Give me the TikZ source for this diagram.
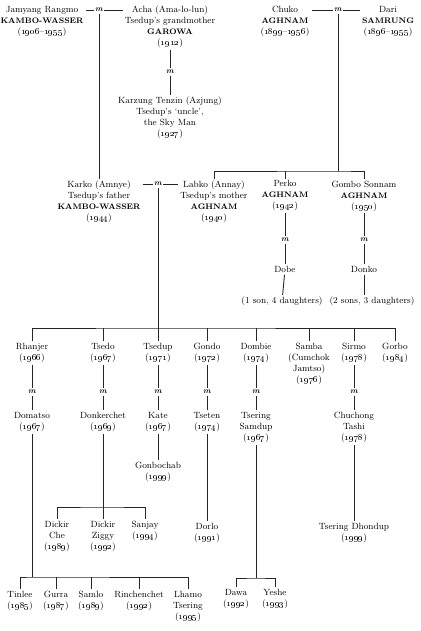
\documentclass[tikz,border=0pt]{standalone}
\newcommand{\yr}[1]{\oldstylenums{#1}}
\newcommand{\clan}[1]{{\fontsize{8}{11}\selectfont\bfseries #1}}

\begin{document}
\begin{tikzpicture}[
      x=1pt, y=-1pt,
      person/.style={anchor=north, align=center, inner sep=2pt, font=\fontsize{9}{11}\selectfont},
      wed/.style={inner sep=1.5pt, font=\fontsize{8}{8}\selectfont\bfseries\itshape},
      line/.style={draw=black!85, line width=0.9pt}
  ]
      \useasboundingbox (0,0) rectangle (420,631);

      % Top: grandparents
      \node [person] (jamyang) at (42,4) {Jamyang Rangmo\\\clan{KAMBO-WASSER}\\(\yr{1906}--\yr{1955})};
      \node [wed] (mA) at (99,10) {m};
      \node [person] (acha) at (170,4) {Acha (Ama-lo-lun)\\Tsedup's grandmother\\\clan{GAROWA}\\(\yr{1912})};
      \node [wed] (mB) at (170,72) {m};
      \node [person] (karzung) at (170,95) {Karzung Tenzin (Azjung)\\Tsedup's `uncle',\\the Sky Man\\(\yr{1927})};

      \node [person] (chuko) at (285,4) {Chuko\\\clan{AGHNAM}\\(\yr{1899}--\yr{1956})};
      \node [wed] (mC) at (338,10) {m};
      \node [person] (dari) at (388,4) {Dari\\\clan{SAMRUNG}\\(\yr{1896}--\yr{1955})};

      % Parents and Aghnam siblings
      \node [person] (karko) at (99,178.5) {Karko (Amnye)\\Tsedup's father\\\clan{KAMBO-WASSER}\\(\yr{1944})};
      \node [wed] (mD) at (158,184) {m};
      \node [person] (labko) at (214,178.5) {Labko (Annay)\\Tsedup's mother\\\clan{AGHNAM}\\(\yr{1940})};
      \node [person] (perko) at (285,178.5) {Perko\\\clan{AGHNAM}\\(\yr{1942})};
      \node [wed] (mE) at (285,240) {m};
      \node [person] (dobe) at (285,264) {Dobe};
      \node [person] (dobekids) at (282,295) {(1 son, 4 daughters)};
      \node [person] (gombo) at (364,178.5) {Gombo Sonnam\\\clan{AGHNAM}\\(\yr{1950})};
      \node [wed] (mF) at (364,240) {m};
      \node [person] (donko) at (364,264) {Donko};
      \node [person] (donkokids) at (372,295) {(2 sons, 3 daughters)};

      % Children
      \node [person] (rhanjer) at (32,341) {Rhanjer\\(\yr{1966})};
      \node [person] (tsedo) at (103,341) {Tsedo\\(\yr{1967})};
      \node [person] (tsedup) at (158,341) {Tsedup\\(\yr{1971})};
      \node [person] (gondo) at (207,341) {Gondo\\(\yr{1972})};
      \node [person] (dombie) at (256,341) {Dombie\\(\yr{1974})};
      \node [person] (samba) at (309,341) {Samba\\(Cumchok\\Jamtso)\\(\yr{1976})};
      \node [person] (sirmo) at (354,341) {Sirmo\\(\yr{1978})};
      \node [person] (gorbo) at (395,341) {Gorbo\\(\yr{1984})};

      % Spouses
      \node [wed] (mG) at (32,392) {m};
      \node [wed] (mH) at (103,392) {m};
      \node [wed] (mI) at (158,392) {m};
      \node [wed] (mJ) at (207,392) {m};
      \node [wed] (mK) at (256,392) {m};
      \node [wed] (mL) at (354,392) {m};
      \node [person] (domatso) at (32,410) {Domatso\\(\yr{1967})};
      \node [person] (donkerchet) at (103,410) {Donkerchet\\(\yr{1969})};
      \node [person] (kate) at (158,410) {Kate\\(\yr{1967})};
      \node [person] (tseten) at (207,410) {Tseten\\(\yr{1974})};
      \node [person] (samdup) at (256,410) {Tsering\\Samdup\\(\yr{1967})};
      \node [person] (chuchong) at (354,410) {Chuchong\\Tashi\\(\yr{1978})};

      % Grandchildren
      \node [person] (gonbochab) at (158,460) {Gonbochab\\(\yr{1999})};
      \node [person] (dickirche) at (57,519) {Dickir\\Che\\(\yr{1989})};
      \node [person] (dickirziggy) at (103,519) {Dickir\\Ziggy\\(\yr{1992})};
      \node [person] (sanjay) at (145,519) {Sanjay\\(\yr{1994})};
      \node [person] (dorlo) at (207,521) {Dorlo\\(\yr{1991})};
      \node [person] (dhondup) at (354,521) {Tsering Dhondup\\(\yr{1999})};
      \node [person] (tinlee) at (20,589) {Tinlee\\(\yr{1985})};
      \node [person] (gurra) at (56,589) {Gurra\\(\yr{1987})};
      \node [person] (samlo) at (91,589) {Samlo\\(\yr{1989})};
      \node [person] (rinchen) at (139,589) {Rinchenchet\\(\yr{1992})};
      \node [person] (lhamo) at (188,589) {Lhamo\\Tsering\\(\yr{1995})};
      \node [person] (dawa) at (236,587) {Dawa\\(\yr{1992})};
      \node [person] (yeshe) at (275,587) {Yeshe\\(\yr{1993})};

      % Forks
      \coordinate (forkA) at (338,171);
      \coordinate (forkB) at (158,328);
      \coordinate (forkC) at (103,507);
      \coordinate (forkD) at (32,577);
      \coordinate (forkE) at (256,578);

      % Marriages
      \path [line] (mA) -- (jamyang.east |- mA);
      \path [line] (mA) -- (acha.west |- mA);
      \path [line] (mC) -- (chuko.east |- mC);
      \path [line] (mC) -- (dari.west |- mC);
      \path [line] (mD) -- (karko.east |- mD);
      \path [line] (mD) -- (labko.west |- mD);
      \path [line] (acha) -- (mB);
      \path [line] (mB) -- (karzung);
      \path [line] (perko) -- (mE);
      \path [line] (mE) -- (dobe);
      \path [line] (gombo) -- (mF);
      \path [line] (mF) -- (donko);
      \path [line] (rhanjer) -- (mG);
      \path [line] (mG) -- (domatso);
      \path [line] (tsedo) -- (mH);
      \path [line] (mH) -- (donkerchet);
      \path [line] (tsedup) -- (mI);
      \path [line] (mI) -- (kate);
      \path [line] (gondo) -- (mJ);
      \path [line] (mJ) -- (tseten);
      \path [line] (dombie) -- (mK);
      \path [line] (mK) -- (samdup);
      \path [line] (sirmo) -- (mL);
      \path [line] (mL) -- (chuchong);

      % Descent
      \path [line] (mA) -- (karko);
      \path [line] (mC) -- (forkA);
      \path [line] (labko.north) |- (forkA) -| (gombo.north);
      \path [line] (forkA -| perko) -- (perko.north);
      \path [line] (dobe) -- (dobekids);
      \path [line] (donko) -- (donkokids.north -| donko);

      \path [line] (mD) -- (forkB);
      \path [line] (rhanjer.north) |- (forkB) -| (gorbo.north);
      \foreach \k in {tsedo, tsedup, gondo, dombie, samba, sirmo}
        \path [line] (forkB -| \k) -- (\k.north);

      \path [line] (donkerchet) -- (forkC);
      \path [line] (dickirche.north) |- (forkC) -| (sanjay.north);
      \path [line] (forkC -| dickirziggy) -- (dickirziggy.north);
      \path [line] (kate) -- (gonbochab);
      \path [line] (tseten) -- (dorlo);
      \path [line] (chuchong) -- (dhondup);

      \path [line] (domatso) -- (forkD);
      \path [line] (tinlee.north) |- (forkD) -| (lhamo.north);
      \foreach \k in {gurra, samlo, rinchen}
        \path [line] (forkD -| \k) -- (\k.north);

      \path [line] (samdup) -- (forkE);
      \path [line] (dawa.north) |- (forkE) -| (yeshe.north);
  \end{tikzpicture}
\end{document}
